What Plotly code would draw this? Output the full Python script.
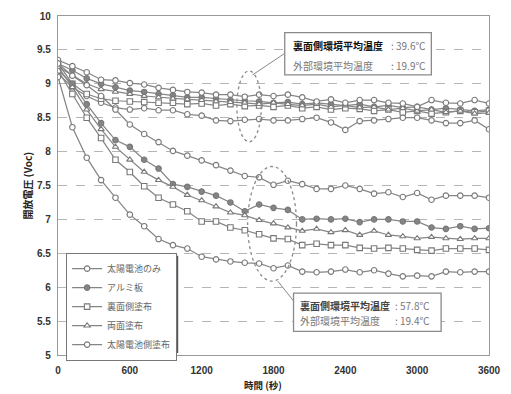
import plotly.graph_objects as go

time_s = list(range(0, 3601, 120))
series_names = ["太陽電池のみ", "アルミ板", "裏面側塗布", "両面塗布", "太陽電池側塗布"]

# Group A: 裏面側環境平均温度 39.6℃
a_only = [9.15, 8.95, 8.82, 8.72, 8.65, 8.62, 8.64, 8.61, 8.61, 8.55, 8.53, 8.46, 8.45, 8.47, 8.48, 8.46,
          8.46, 8.48, 8.50, 8.43, 8.32, 8.45, 8.46, 8.48, 8.50, 8.50, 8.46, 8.42, 8.42, 8.46, 8.33]
a_alu = [9.30, 9.20, 9.08, 9.00, 8.95, 8.90, 8.88, 8.85, 8.83, 8.80, 8.80, 8.78, 8.76, 8.75, 8.74, 8.72,
         8.73, 8.70, 8.72, 8.70, 8.68, 8.70, 8.66, 8.68, 8.65, 8.66, 8.62, 8.64, 8.62, 8.60, 8.62]
a_back = [9.20, 9.00, 8.85, 8.78, 8.75, 8.74, 8.73, 8.72, 8.72, 8.70, 8.71, 8.68, 8.70, 8.67, 8.68, 8.66,
          8.68, 8.64, 8.66, 8.62, 8.64, 8.63, 8.60, 8.62, 8.58, 8.60, 8.56, 8.58, 8.60, 8.58, 8.60]
a_both = [9.25, 9.12, 9.00, 8.92, 8.88, 8.85, 8.82, 8.80, 8.78, 8.77, 8.76, 8.74, 8.73, 8.72, 8.70, 8.72,
          8.70, 8.68, 8.70, 8.66, 8.68, 8.65, 8.66, 8.62, 8.64, 8.60, 8.62, 8.58, 8.60, 8.56, 8.57]
a_front = [9.35, 9.26, 9.17, 9.06, 9.05, 9.01, 8.99, 8.94, 8.91, 8.88, 8.87, 8.84, 8.84, 8.81, 8.84, 8.82,
           8.84, 8.80, 8.74, 8.77, 8.72, 8.76, 8.76, 8.72, 8.71, 8.66, 8.76, 8.72, 8.71, 8.76, 8.71]

# Group B: 裏面側環境平均温度 57.8℃
b_only = [9.10, 8.36, 7.91, 7.58, 7.32, 7.07, 6.90, 6.71, 6.62, 6.57, 6.45, 6.41, 6.38, 6.36, 6.35, 6.28,
          6.32, 6.23, 6.22, 6.23, 6.26, 6.22, 6.25, 6.20, 6.16, 6.17, 6.16, 6.23, 6.22, 6.23, 6.23]
b_alu = [9.30, 9.00, 8.70, 8.42, 8.17, 8.07, 7.88, 7.75, 7.52, 7.48, 7.41, 7.35, 7.25, 7.12, 7.22, 7.17,
         7.14, 7.00, 7.01, 7.00, 7.01, 6.96, 7.00, 7.00, 6.97, 6.97, 6.88, 6.86, 6.90, 6.86, 6.87]
b_back = [9.20, 8.85, 8.50, 8.20, 7.88, 7.70, 7.49, 7.32, 7.22, 7.12, 6.97, 6.97, 6.88, 6.84, 6.78, 6.72,
          6.71, 6.62, 6.64, 6.62, 6.62, 6.58, 6.57, 6.58, 6.57, 6.55, 6.54, 6.57, 6.57, 6.57, 6.55]
b_both = [9.25, 8.95, 8.62, 8.33, 8.07, 7.88, 7.70, 7.58, 7.48, 7.36, 7.28, 7.19, 7.10, 7.06, 6.99, 6.94,
          6.88, 6.83, 6.86, 6.81, 6.84, 6.77, 6.83, 6.77, 6.75, 6.72, 6.74, 6.72, 6.71, 6.72, 6.72]
b_front = [9.30, 9.12, 8.98, 8.82, 8.62, 8.40, 8.26, 8.14, 8.01, 7.94, 7.87, 7.80, 7.72, 7.64, 7.62, 7.51,
           7.57, 7.52, 7.45, 7.45, 7.50, 7.45, 7.38, 7.40, 7.33, 7.39, 7.29, 7.35, 7.35, 7.35, 7.32]

x_ticks = [0, 600, 1200, 1800, 2400, 3000, 3600]
y_ticks = [5, 5.5, 6, 6.5, 7, 7.5, 8, 8.5, 9, 9.5, 10]
y_tick_text = ["5", "5.5", "6", "6.5", "7", "7.5", "8", "8.5", "9", "9.5", "10"]

box_top_lines = [("裏面側環境平均温度", ": 39.6℃"), ("外部環境平均温度", ": 19.9℃")]
box_bot_lines = [("裏面側環境平均温度", ": 57.8℃"), ("外部環境平均温度", ": 19.4℃")]

# page-pixel -> paper helpers (plot area spans x 58..499, y 10..355)
def PX(p):
    return (p - 58) / 441.0

def PY(p):
    return (355 - p) / 345.0

LINE = "#858585"
symbols = ["circle", "circle", "square", "triangle-up", "circle"]
fills = ["white", "#858585", "white", "white", "white"]

fig = go.Figure()
groups = [[a_only, a_alu, a_back, a_both, a_front], [b_only, b_alu, b_back, b_both, b_front]]
for gi, grp in enumerate(groups):
    for si, vals in enumerate(grp):
        fig.add_trace(go.Scatter(
            x=time_s, y=vals, mode="lines+markers", name=series_names[si],
            legendgroup=series_names[si], showlegend=(gi == 1),
            line=dict(color=LINE, width=1.25),
            marker=dict(symbol=symbols[si], size=5.5, color=fills[si],
                        line=dict(color="#787878", width=1.1)),
        ))

# dotted ellipses and leader lines
fig.add_shape(type="circle", xref="x", yref="y", x0=1494, x1=1698, y0=8.145, y1=9.19,
              line=dict(color="#8a8a8a", width=1.3, dash="dot"))
fig.add_shape(type="circle", xref="x", yref="y", x0=1584, x1=1992, y0=6.09, y1=7.78,
              line=dict(color="#8a8a8a", width=1.3, dash="dot"))
fig.add_shape(type="line", xref="paper", yref="paper", x0=PX(257), y0=PY(70), x1=PX(290), y1=PY(48),
              line=dict(color="#8a8a8a", width=1))
fig.add_shape(type="line", xref="paper", yref="paper", x0=PX(283), y0=PY(280), x1=PX(299), y1=PY(300),
              line=dict(color="#8a8a8a", width=1))

# annotation boxes
fig.add_shape(type="rect", xref="paper", yref="paper", x0=PX(290), x1=PX(440), y0=PY(70), y1=PY(27),
              fillcolor="white", line=dict(color="#8a8a8a", width=1.3), layer="above")
fig.add_shape(type="rect", xref="paper", yref="paper", x0=PX(299), x1=PX(450), y0=PY(331), y1=PY(292),
              fillcolor="white", line=dict(color="#8a8a8a", width=1.3), layer="above")

# legend shadow
fig.add_shape(type="rect", xref="paper", yref="paper",
              x0=PX(69), x1=PX(181), y0=PY(353), y1=PY(254),
              fillcolor="#555", line=dict(width=0), layer="above")

def box_text(lines, x_left, x_val, ys, first_color):
    for i, (label, val) in enumerate(lines):
        col = first_color if i == 0 else "#777"
        txt = "<b>%s</b>" % label if i == 0 else label
        fig.add_annotation(x=PX(x_left), y=PY(ys[i]), xref="paper", yref="paper", showarrow=False,
                           xanchor="left", yanchor="middle", text=txt,
                           font=dict(family="Noto Sans CJK JP", size=10, color=col))
        fig.add_annotation(x=PX(x_val), y=PY(ys[i]), xref="paper", yref="paper", showarrow=False,
                           xanchor="left", yanchor="middle", text=val,
                           font=dict(family="Noto Sans CJK JP", size=10, color="#777"))

box_text(box_top_lines, 296, 397, [40, 60], "#111")
box_text(box_bot_lines, 304, 401, [305, 320], "#444")

fig.add_annotation(x=PX(18), y=PY(183), xref="paper", yref="paper", showarrow=False,
                   text="<b>開放電圧 (Voc)</b>", textangle=-90,
                   font=dict(family="Noto Sans CJK JP", size=10, color="#222"))
fig.add_annotation(x=PX(268), y=PY(386), xref="paper", yref="paper", showarrow=False,
                   text="<b>時間 (秒)</b>", yanchor="middle",
                   font=dict(family="Noto Sans CJK JP", size=9.5, color="#222"))

fig.update_layout(
    width=511, height=394,
    margin=dict(l=58, r=12, t=10, b=39),
    paper_bgcolor="white", plot_bgcolor="white",
    font=dict(family="Noto Sans CJK JP", color="#444"),
    legend=dict(x=PX(66), y=PY(251), xanchor="left", yanchor="top",
                bgcolor="white", bordercolor="#777", borderwidth=1.3,
                font=dict(family="Noto Sans CJK JP", size=9, color="#666"),
                itemwidth=30, tracegroupgap=0),
    xaxis=dict(range=[0, 3600], tickvals=x_ticks, ticks="", showgrid=False,
               showline=True, linecolor="#999", linewidth=1.2, mirror=True,
               ticklabelstandoff=6, ticklabeloverflow="allow",
               tickfont=dict(family="Liberation Sans", size=10, color="#333", weight="bold"),
               zeroline=False),
    yaxis=dict(range=[5, 10], tickvals=y_ticks, ticktext=y_tick_text, ticks="",
               showgrid=True, gridcolor="#b5b5b5", griddash="dash", gridwidth=1,
               showline=True, linecolor="#999", linewidth=1.2, mirror=True,
               ticklabelstandoff=4, ticklabeloverflow="allow",
               tickfont=dict(family="Liberation Sans", size=10, color="#333", weight="bold"),
               zeroline=False),
)

fig.write_html("out.html", config={"displayModeBar": False},
               post_script="document.body.style.margin='0px';")
